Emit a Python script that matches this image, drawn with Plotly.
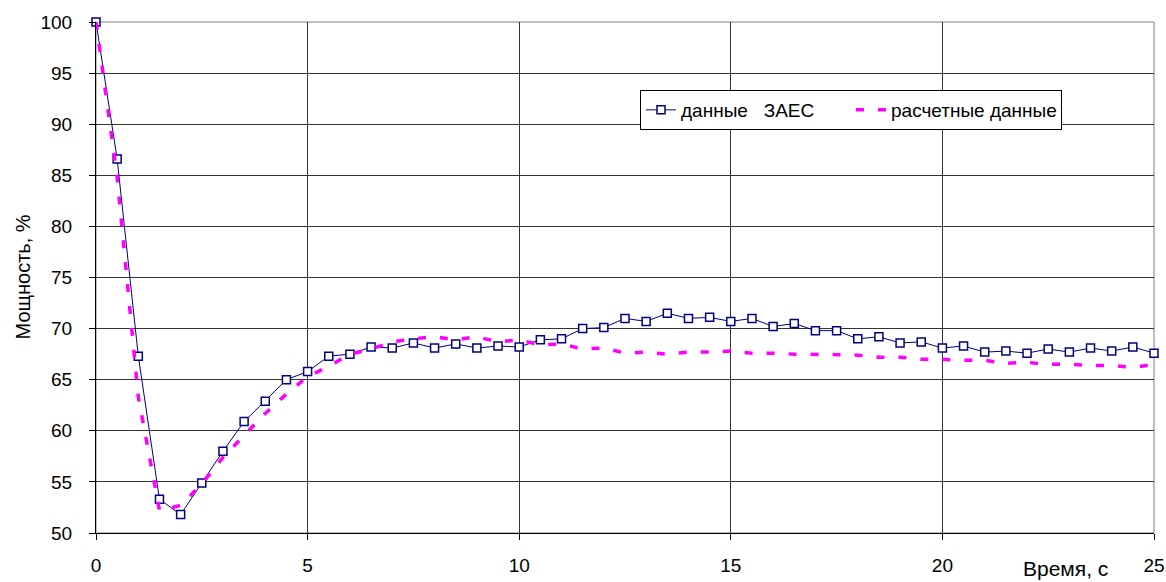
import plotly.graph_objects as go

# Time, s (every 0.5 s)
time_s = [i * 0.5 for i in range(51)]

# "данные ЗАЕС" — measured power, %
zaes = [100.0, 86.6, 67.3, 53.3, 51.8, 54.9, 58.0, 60.9, 62.9, 65.0,
        65.8, 67.3, 67.5, 68.2, 68.1, 68.6, 68.1, 68.5, 68.1, 68.3,
        68.2, 68.9, 69.0, 70.0, 70.1, 71.0, 70.7, 71.5, 71.0, 71.1,
        70.7, 71.0, 70.2, 70.5, 69.8, 69.8, 69.0, 69.2, 68.6, 68.7,
        68.1, 68.3, 67.7, 67.8, 67.6, 68.0, 67.7, 68.1, 67.8, 68.2,
        67.6]

# "расчетные данные" — calculated power, %
calc = [100.0, 84.8, 63.3, 52.2, 52.7, 54.8, 57.4, 59.5, 61.7, 63.6,
        65.3, 66.3, 67.5, 68.0, 68.7, 69.0, 69.2, 68.9, 69.2, 68.7,
        68.9, 68.4, 68.5, 68.0, 68.1, 67.6, 67.7, 67.5, 67.7, 67.7,
        67.8, 67.6, 67.6, 67.5, 67.5, 67.45, 67.4, 67.2, 67.2, 67.0,
        67.0, 66.9, 66.9, 66.6, 66.7, 66.5, 66.5, 66.4, 66.4, 66.2,
        66.5]

x_ticks = [0, 5, 10, 15, 20, 25]
y_ticks = [50, 55, 60, 65, 70, 75, 80, 85, 90, 95, 100]

FONT = "Liberation Sans, Arial, sans-serif"

fig = go.Figure()
fig.add_trace(go.Scatter(
    x=time_s, y=zaes, name="данные   ЗАЕС",
    mode="lines+markers",
    line=dict(color="#000080", width=1),
    marker=dict(symbol="square", size=8, color="white",
                line=dict(color="#000080", width=1.5)),
    cliponaxis=False,
))
fig.add_trace(go.Scatter(
    x=time_s, y=calc, name="расчетные данные",
    mode="lines",
    line=dict(color="#FF00FF", width=3.5, dash="8px,14px"),
    cliponaxis=False,
))

fig.update_layout(
    width=1166, height=582,
    margin=dict(l=96, r=12, t=22, b=49, autoexpand=False),
    paper_bgcolor="white", plot_bgcolor="white",
    font=dict(family=FONT, size=19, color="black"),
    showlegend=True,
    legend=dict(
        orientation="h", x=(640 - 96) / 1058, y=(533 - 90) / 511,
        xanchor="left", yanchor="top",
        bgcolor="white", bordercolor="black", borderwidth=1,
        font=dict(family=FONT, size=19),
        entrywidth=165, entrywidthmode="pixels",
        traceorder="normal",
    ),
    xaxis=dict(
        range=[0, 25], tickvals=x_ticks, ticktext=[str(v) for v in x_ticks],
        showgrid=True, gridcolor="#333333", gridwidth=1,
        showline=True, linecolor="black", linewidth=1,
        ticks="outside", ticklen=6, tickcolor="black",
        ticklabelstandoff=9, zeroline=False, automargin=False,
    ),
    yaxis=dict(
        range=[50, 100], tickvals=y_ticks, ticktext=[str(v) for v in y_ticks],
        showgrid=True, gridcolor="#333333", gridwidth=1,
        showline=True, linecolor="black", linewidth=1,
        ticks="outside", ticklen=6, tickcolor="black",
        ticklabelstandoff=13, zeroline=False, automargin=False,
    ),
    shapes=[dict(type="rect", xref="paper", yref="paper", x0=0, x1=1, y0=0, y1=1,
                 line=dict(color="#808080", width=1), layer="below")],
    annotations=[
        dict(text="Время, с", xref="paper", yref="paper",
             x=(1065 - 96) / 1058, y=(533 - 582) / 511,
             xanchor="center", yanchor="bottom", showarrow=False,
             font=dict(family=FONT, size=21)),
        dict(text="Мощность, %", xref="paper", yref="paper",
             x=(22 - 96) / 1058, y=0.5, textangle=-90,
             xanchor="center", yanchor="middle", showarrow=False,
             font=dict(family=FONT, size=20)),
    ],
)

fig.write_html("out.html")
